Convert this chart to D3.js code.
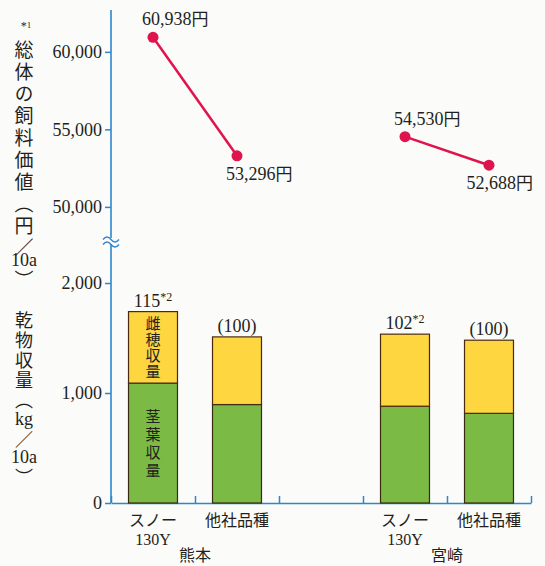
<!DOCTYPE html>
<html>
<head>
<meta charset="utf-8">
<script src="https://cdn.jsdelivr.net/npm/d3@7"></script>
<style>
  body { margin: 0; background: #fbfbf9; }
  svg { display: block; }
  text { font-family: "Liberation Serif", "Noto Sans CJK JP", serif; fill: #231f1c; }
  .jp { font-family: "Noto Sans CJK JP", sans-serif; }
  .vt { font-family: "Noto Sans CJK JP", sans-serif; writing-mode: vertical-rl; }
</style>
</head>
<body>
<svg id="chart"></svg>
<script>
// ---- data ----
const sites = ["熊本", "宮崎"];
const varieties = [["スノー", "130Y"], ["他社品種"]];
const stemLeaf = [1090, 895, 880, 815];     // 茎葉収量 kg/10a
const earYield = [650, 615, 655, 665];      // 雌穂収量 kg/10a
const yieldIndex = ["115", "(100)", "102", "(100)"];
const indexNote = ["*2", "", "*2", ""];
const feedValue = [60938, 53296, 54530, 52688]; // 総体の飼料価値 円/10a
const valueTicks = [50000, 55000, 60000];
const yieldTicks = [0, 1000, 2000];
const partNames = ["茎葉収量", "雌穂収量"];

const W = 545, H = 566;
const axisX = 111, right = 531, baseY = 503, topY = 10, breakY = 241;
const blue = "#2f86cc", red = "#e0144c";
const green = "#7bbb45", yellow = "#fdd640";

const svg = d3.select("#chart").attr("width", W).attr("height", H);

// rows: one per bar, with an empty slot between the two sites
let rows = [];
sites.forEach((s, i) => varieties.forEach((v, j) => {
  let k = i * 2 + j;
  rows.push({ key: s + j, site: s, variety: v, stem: stemLeaf[k], ear: earYield[k],
              idx: yieldIndex[k], note: indexNote[k], value: feedValue[k] });
}));
const keys = [rows[0].key, rows[1].key, "gap", rows[2].key, rows[3].key];

const x = d3.scaleBand().domain(keys).range([axisX, right])
  .paddingInner(0.417).paddingOuter(0.2085);
const slot = d3.scaleLinear().domain([0, keys.length]).range([axisX, right]);

const yVal = d3.scaleLinear().domain([47800, 62700]).range([breakY, topY]);
const yYld = d3.scaleLinear().domain([0, 2250]).range([baseY, 255.5]);
const cx = d => x(d.key) + x.bandwidth() / 2;

// ---- y axes ----
function styleAxis(g) {
  g.select(".domain").remove();
  g.selectAll(".tick line").attr("stroke", blue).attr("stroke-width", 1.5);
  g.selectAll(".tick text").attr("font-size", 18).attr("fill", "#231f1c")
    .attr("font-family", "Liberation Serif");
}
svg.append("g").attr("transform", `translate(${axisX},0)`)
  .call(d3.axisLeft(yVal).tickValues(valueTicks).tickFormat(d3.format(",")).tickSize(6).tickPadding(3))
  .call(styleAxis);
svg.append("g").attr("transform", `translate(${axisX},0)`)
  .call(d3.axisLeft(yYld).tickValues(yieldTicks).tickFormat(d3.format(",")).tickSize(6).tickPadding(3))
  .call(styleAxis);

svg.append("line")
  .attr("x1", axisX).attr("x2", axisX).attr("y1", topY).attr("y2", baseY)
  .attr("stroke", blue).attr("stroke-width", 1.6);

// break mark
svg.append("rect").attr("x", axisX - 8).attr("y", breakY - 3).attr("width", 16).attr("height", 6)
  .attr("fill", "#fbfbf9");
[-2.5, 2.5].forEach(dy => {
  svg.append("path")
    .attr("d", `M${axisX - 8},${breakY + dy + 1} q4,-5 8,0 t8,0`)
    .attr("fill", "none").attr("stroke", blue).attr("stroke-width", 1.4);
});

// ---- x axis ----
svg.append("g").attr("transform", `translate(0,${baseY})`)
  .call(d3.axisTop(slot).tickValues(d3.range(keys.length + 1)).tickFormat("").tickSize(7).tickSizeOuter(0))
  .call(g => {
    g.select(".domain").attr("stroke", blue).attr("stroke-width", 1.6);
    g.selectAll(".tick line").attr("stroke", blue).attr("stroke-width", 1.5);
  });

// ---- stacked bars ----
const bars = svg.append("g");
bars.selectAll(".stem").data(rows).join("rect")
  .attr("x", d => x(d.key)).attr("width", x.bandwidth())
  .attr("y", d => yYld(d.stem)).attr("height", d => yYld(0) - yYld(d.stem))
  .attr("fill", green).attr("stroke", "#3b2a12").attr("stroke-width", 1.2);
bars.selectAll(".ear").data(rows).join("rect")
  .attr("x", d => x(d.key)).attr("width", x.bandwidth())
  .attr("y", d => yYld(d.stem + d.ear)).attr("height", d => yYld(d.stem) - yYld(d.stem + d.ear))
  .attr("fill", yellow).attr("stroke", "#4a2a10").attr("stroke-width", 1.2);

// index labels above bars
const idx = svg.selectAll(".idx").data(rows).join("text")
  .attr("x", d => cx(d)).attr("y", d => yYld(d.stem + d.ear) - 5)
  .attr("text-anchor", "middle").attr("font-size", 18);
idx.append("tspan").text(d => d.idx);
idx.append("tspan").attr("font-size", 12).attr("dy", -6).text(d => d.note);

// vertical part names inside the first bar
const first = rows[0];
[[first.stem / 2, partNames[0], "#1d4a16", 3], [first.stem + first.ear / 2, partNames[1], "#7a2a10", 1]]
  .forEach(([mid, name, col, sp]) => {
    svg.append("text").attr("class", "vt")
      .attr("x", cx(first)).attr("y", yYld(mid) + sp / 2)
      .attr("text-anchor", "middle")
      .attr("font-size", 15).attr("letter-spacing", sp).attr("fill", col).text(name);
  });

// category labels
rows.forEach(d => {
  d.variety.forEach((t, i) => {
    svg.append("text").attr("class", /^[0-9A-Z]+$/.test(t) ? null : "jp")
      .attr("x", cx(d)).attr("y", baseY + 23 + i * 19)
      .attr("text-anchor", "middle").attr("font-size", 16).text(t);
  });
});
sites.forEach((s, i) => {
  svg.append("text").attr("class", "jp")
    .attr("x", slot(1 + i * 3)).attr("y", 561)
    .attr("text-anchor", "middle").attr("font-size", 16).text(s);
});

// ---- feed value lines ----
const line = d3.line().x(d => cx(d)).y(d => yVal(d.value));
sites.forEach(s => {
  const pts = rows.filter(d => d.site === s);
  svg.append("path").datum(pts).attr("d", line)
    .attr("fill", "none").attr("stroke", red).attr("stroke-width", 2.5);
  svg.selectAll(null).data(pts).join("circle")
    .attr("cx", d => cx(d)).attr("cy", d => yVal(d.value)).attr("r", 5.5).attr("fill", red);
  pts.forEach((d, i) => {
    const t = svg.append("text").attr("font-size", 18)
      .attr("y", yVal(d.value) + (i === 0 ? -12 : 24));
    t.append("tspan").text(d3.format(",")(d.value));
    t.append("tspan").attr("class", "jp").attr("font-size", 17).text("円");
    const w = t.node().getComputedTextLength();
    t.attr("x", Math.min(cx(d) - 11, right + 2 - w));
  });
});

// ---- vertical axis titles ----
// pieces: [text, start (vertical) or centre (horizontal) y, vertical?]
function vTitle(pieces, size, sp) {
  pieces.forEach(([s, y, vert]) => {
    const t = svg.append("text").attr("x", 24).attr("font-size", vert ? size : 18).text(s);
    if (vert) t.attr("class", "vt").attr("y", y).attr("letter-spacing", sp);
    else t.attr("y", y).attr("text-anchor", "middle").attr("dominant-baseline", "central");
  });
}
vTitle([["総体の飼料価値（円／", 40, true], ["10a", 260, false], ["）", 270, true]], 19, 3);
vTitle([["乾物収量（", 311, true], ["kg", 419, false], ["／", 430, true], ["10a", 457, false], ["）", 468, true]], 18, 2);

const note = svg.append("text").attr("x", 26).attr("y", 30).attr("text-anchor", "middle").attr("font-size", 12);
note.append("tspan").text("*");
note.append("tspan").attr("font-size", 9).attr("dy", -2).text("1");
</script>
</body>
</html>
